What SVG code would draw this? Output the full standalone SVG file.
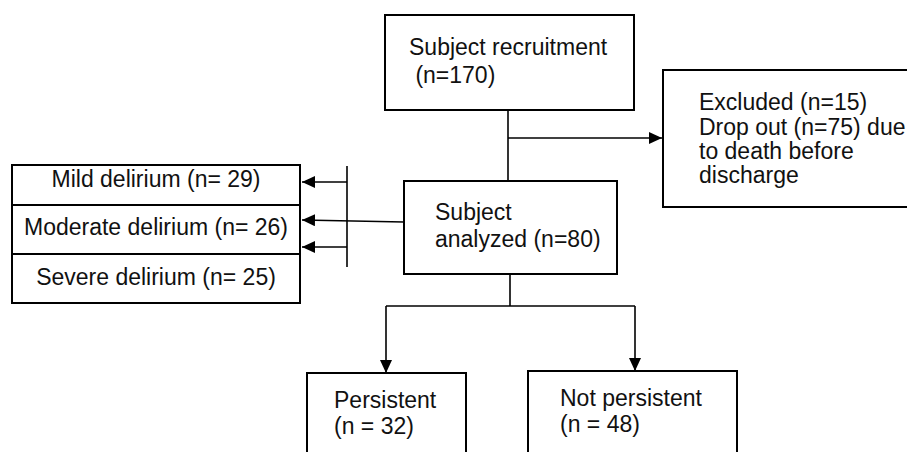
<svg xmlns="http://www.w3.org/2000/svg" width="907" height="452" viewBox="0 0 907 452">
<defs>
<marker id="ah" markerWidth="14" markerHeight="12" refX="13" refY="6" orient="auto" markerUnits="userSpaceOnUse">
<path d="M0,0 L13,6 L0,12 Z" fill="#000"/>
</marker>
<style>
.box{fill:#fff;stroke:#000;stroke-width:2}
.ln{fill:none;stroke:#000;stroke-width:1.6}
text{font-family:"Liberation Sans",Arial,sans-serif;font-size:23px;fill:#111}
</style>
</defs>
<rect width="907" height="452" fill="#fff"/>
<g id="connectors">
<path class="ln" d="M508,110 V182"/>
<path class="ln" d="M508,138 H662" marker-end="url(#ah)"/>
<path class="ln" d="M347,166 V267"/>
<path class="ln" d="M347,182 H302" marker-end="url(#ah)"/>
<path class="ln" d="M404,222 L302,220" marker-end="url(#ah)"/>
<path class="ln" d="M347,247 H302" marker-end="url(#ah)"/>
<path class="ln" d="M510,274 V306"/>
<path class="ln" d="M386,306 H635"/>
<path class="ln" d="M386,306 V373" marker-end="url(#ah)"/>
<path class="ln" d="M635,306 V371" marker-end="url(#ah)"/>
</g>
<g id="recruit">
<rect class="box" x="385" y="15" width="249" height="95"/>
<text x="409" y="55">Subject recruitment</text>
<text x="409" y="83" xml:space="preserve"> (n=170)</text>
</g>
<g id="excluded">
<rect class="box" x="663" y="70" width="260" height="137"/>
<text x="699" y="110">Excluded (n=15)</text>
<text x="699" y="135">Drop out (n=75) due</text>
<text x="699" y="159">to death before</text>
<text x="699" y="183">discharge</text>
</g>
<g id="analyzed">
<rect class="box" x="404" y="181" width="213" height="93"/>
<text x="435" y="220">Subject</text>
<text x="435" y="247">analyzed (n=80)</text>
</g>
<g id="mild">
<rect class="box" x="12" y="165" width="288" height="40"/>
<text x="156" y="187" text-anchor="middle">Mild delirium (n= 29)</text>
</g>
<g id="moderate">
<rect class="box" x="12" y="205" width="288" height="49"/>
<text x="156" y="235" text-anchor="middle">Moderate delirium (n= 26)</text>
</g>
<g id="severe">
<rect class="box" x="12" y="254" width="288" height="49"/>
<text x="156" y="285" text-anchor="middle">Severe delirium (n= 25)</text>
</g>
<g id="persistent">
<rect class="box" x="307" y="373" width="159" height="100"/>
<text x="334" y="408">Persistent</text>
<text x="334" y="434">(n = 32)</text>
</g>
<g id="notpersistent">
<rect class="box" x="528" y="371" width="209" height="100"/>
<text x="560" y="406">Not persistent</text>
<text x="560" y="432">(n = 48)</text>
</g>
</svg>
